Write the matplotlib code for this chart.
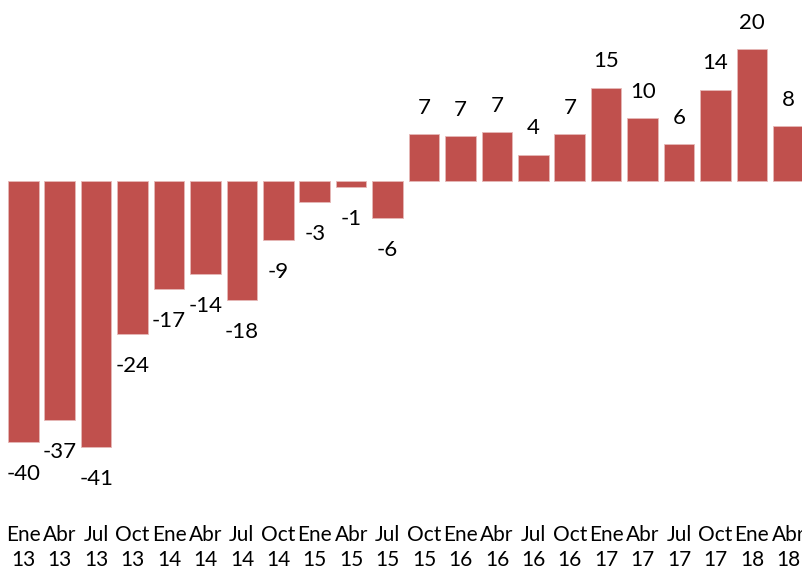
import matplotlib
matplotlib.use("Agg")
import matplotlib.pyplot as plt

# quarterly series
months = ["Ene", "Abr", "Jul", "Oct"] * 5 + ["Ene", "Abr"]
years = ["13"] * 4 + ["14"] * 4 + ["15"] * 4 + ["16"] * 4 + ["17"] * 4 + ["18"] * 2
# bar heights, labels as printed
values = [-40.0, -36.6, -40.8, -23.5, -16.5, -14.2, -18.3, -9.1, -3.2, -0.9, -5.7,
          7.2, 6.9, 7.5, 4.0, 7.2, 14.3, 9.6, 5.6, 14.0, 20.2, 8.4]
labels = ["-40", "-37", "-41", "-24", "-17", "-14", "-18", "-9", "-3", "-1", "-6",
          "7", "7", "7", "4", "7", "15", "10", "6", "14", "20", "8"]

plt.rcParams["font.family"] = ["Lato", "DejaVu Sans"]

fig = plt.figure(figsize=(8.02, 5.70), dpi=100)
ax = fig.add_axes([0, 55 / 570, 1, 515 / 570])

x = list(range(len(values)))
ax.bar(x, values, width=0.84, color="#C0504D", edgecolor="#e6b8b7", linewidth=0.6)

for xi, v, lab in zip(x, values, labels):
    off = 19 if v > 0 else -23
    ax.annotate(lab, (xi, v), xytext=(0, off), textcoords="offset points",
                ha="center", va="center", fontsize=16, color="black")

ax.set_xlim(-0.64, 21.375)
ax.set_ylim(-51.15, 27.72)
ax.set_xticks(x)
ax.set_xticklabels([m + "\n" + y for m, y in zip(months, years)], fontsize=15)
for lbl in ax.get_xticklabels():
    lbl.set_linespacing(1.3)
ax.tick_params(axis="x", length=0, pad=7)
ax.set_yticks([])
for s in ax.spines.values():
    s.set_visible(False)

fig.savefig("out.png", dpi=100)
